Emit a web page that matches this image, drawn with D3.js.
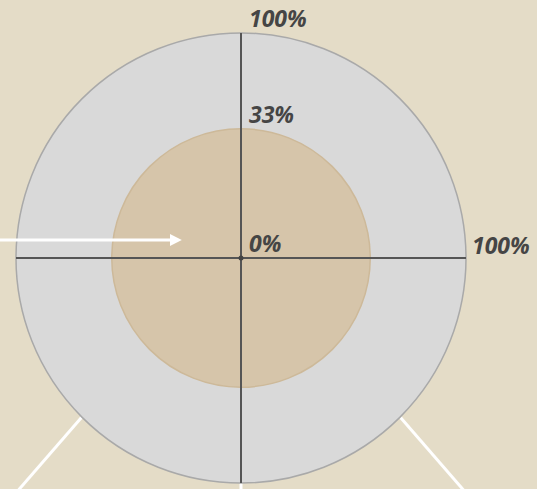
<!DOCTYPE html>
<html lang="en">
  <head>
    <meta charset="utf-8">
    <title>radial</title>
    <style>
      body { margin: 0; background: #e4dcc7; }
      svg { display: block; }
    </style>
  </head>
  <body>
<script src="https://cdn.jsdelivr.net/npm/d3@7"></script>
<script>

// data
var rings = [1, 0.33];
var ringFill = ["#d9d9d9", "#d6c5aa"];
var ringStroke = ["#a9a9a9", "#cdb999"];
var tickValues = [0, 0.33, 1];
var tickLabels = ["0%", "33%", "100%"];
var pointerAngles = [135, 180, 225]; // where each pointer leaves the ring, degrees clockwise from top
var pointerDirs = [139, 180, 221];   // which way it heads off

var width = 537, height = 489;
var cx = 241, cy = 258;

var svg = d3.select("body").append("svg")
    .attr("width", width)
    .attr("height", height);

// area scale, so the radius grows with sqrt
var r = d3.scaleSqrt().domain([0, 1]).range([0, 225]);

var g = svg.append("g").attr("transform", "translate(" + cx + "," + cy + ")");

// pointer lines below the circle
var rad = function(a) { return (a - 90) * Math.PI / 180; };
var plen = 100;
g.selectAll("line.pointer")
  .data(pointerAngles)
  .enter().append("line")
    .attr("class", "pointer")
    .attr("x1", function(d) { return Math.cos(rad(d)) * r(1); })
    .attr("y1", function(d) { return Math.sin(rad(d)) * r(1); })
    .attr("x2", function(d, i) { return Math.cos(rad(d)) * r(1) + Math.cos(rad(pointerDirs[i])) * plen; })
    .attr("y2", function(d, i) { return Math.sin(rad(d)) * r(1) + Math.sin(rad(pointerDirs[i])) * plen; })
    .attr("stroke", "#fff")
    .attr("stroke-width", 3);

// rings
g.selectAll("circle.ring")
  .data(rings)
  .enter().append("circle")
    .attr("class", "ring")
    .attr("r", function(d) { return r(d); })
    .attr("fill", function(d, i) { return ringFill[i]; })
    .attr("stroke", function(d, i) { return ringStroke[i]; })
    .attr("stroke-width", 1.5);

// axes
g.append("line")
    .attr("x1", 0).attr("y1", -r(1))
    .attr("x2", 0).attr("y2", r(1))
    .attr("stroke", "#555").attr("stroke-width", 2);
g.append("line")
    .attr("x1", -r(1)).attr("y1", 0)
    .attr("x2", r(1)).attr("y2", 0)
    .attr("stroke", "#555").attr("stroke-width", 2);
g.append("circle").attr("r", 2.5).attr("fill", "#444");

// labels on the vertical axis
g.selectAll("text.tick")
  .data(tickValues)
  .enter().append("text")
    .attr("class", "tick")
    .attr("x", 8)
    .attr("y", function(d) { return -r(d) - 6; })
    .attr("font-family", "'Open Sans', sans-serif")
    .attr("font-style", "italic")
    .attr("font-weight", "bold")
    .attr("font-size", 23)
    .attr("fill", "#454545")
    .text(function(d, i) { return tickLabels[i]; });

// label at the end of the horizontal axis
g.append("text")
    .attr("x", r(1) + 6)
    .attr("y", -4)
    .attr("font-family", "'Open Sans', sans-serif")
    .attr("font-style", "italic")
    .attr("font-weight", "bold")
    .attr("font-size", 23)
    .attr("fill", "#454545")
    .text(tickLabels[2]);

// arrow pointing in
var defs = svg.append("defs");
defs.append("marker")
    .attr("id", "head")
    .attr("viewBox", "0 0 10 10")
    .attr("refX", 1).attr("refY", 5)
    .attr("markerWidth", 4).attr("markerHeight", 4)
    .attr("markerUnits", "strokeWidth")
    .attr("orient", "auto")
  .append("path")
    .attr("d", "M0,0L10,5L0,10Z")
    .attr("fill", "#fff");

svg.append("line")
    .attr("x1", 0).attr("y1", cy - 18)
    .attr("x2", 171).attr("y2", cy - 18)
    .attr("stroke", "#fff").attr("stroke-width", 3)
    .attr("marker-end", "url(#head)");

</script>
  </body>
</html>
